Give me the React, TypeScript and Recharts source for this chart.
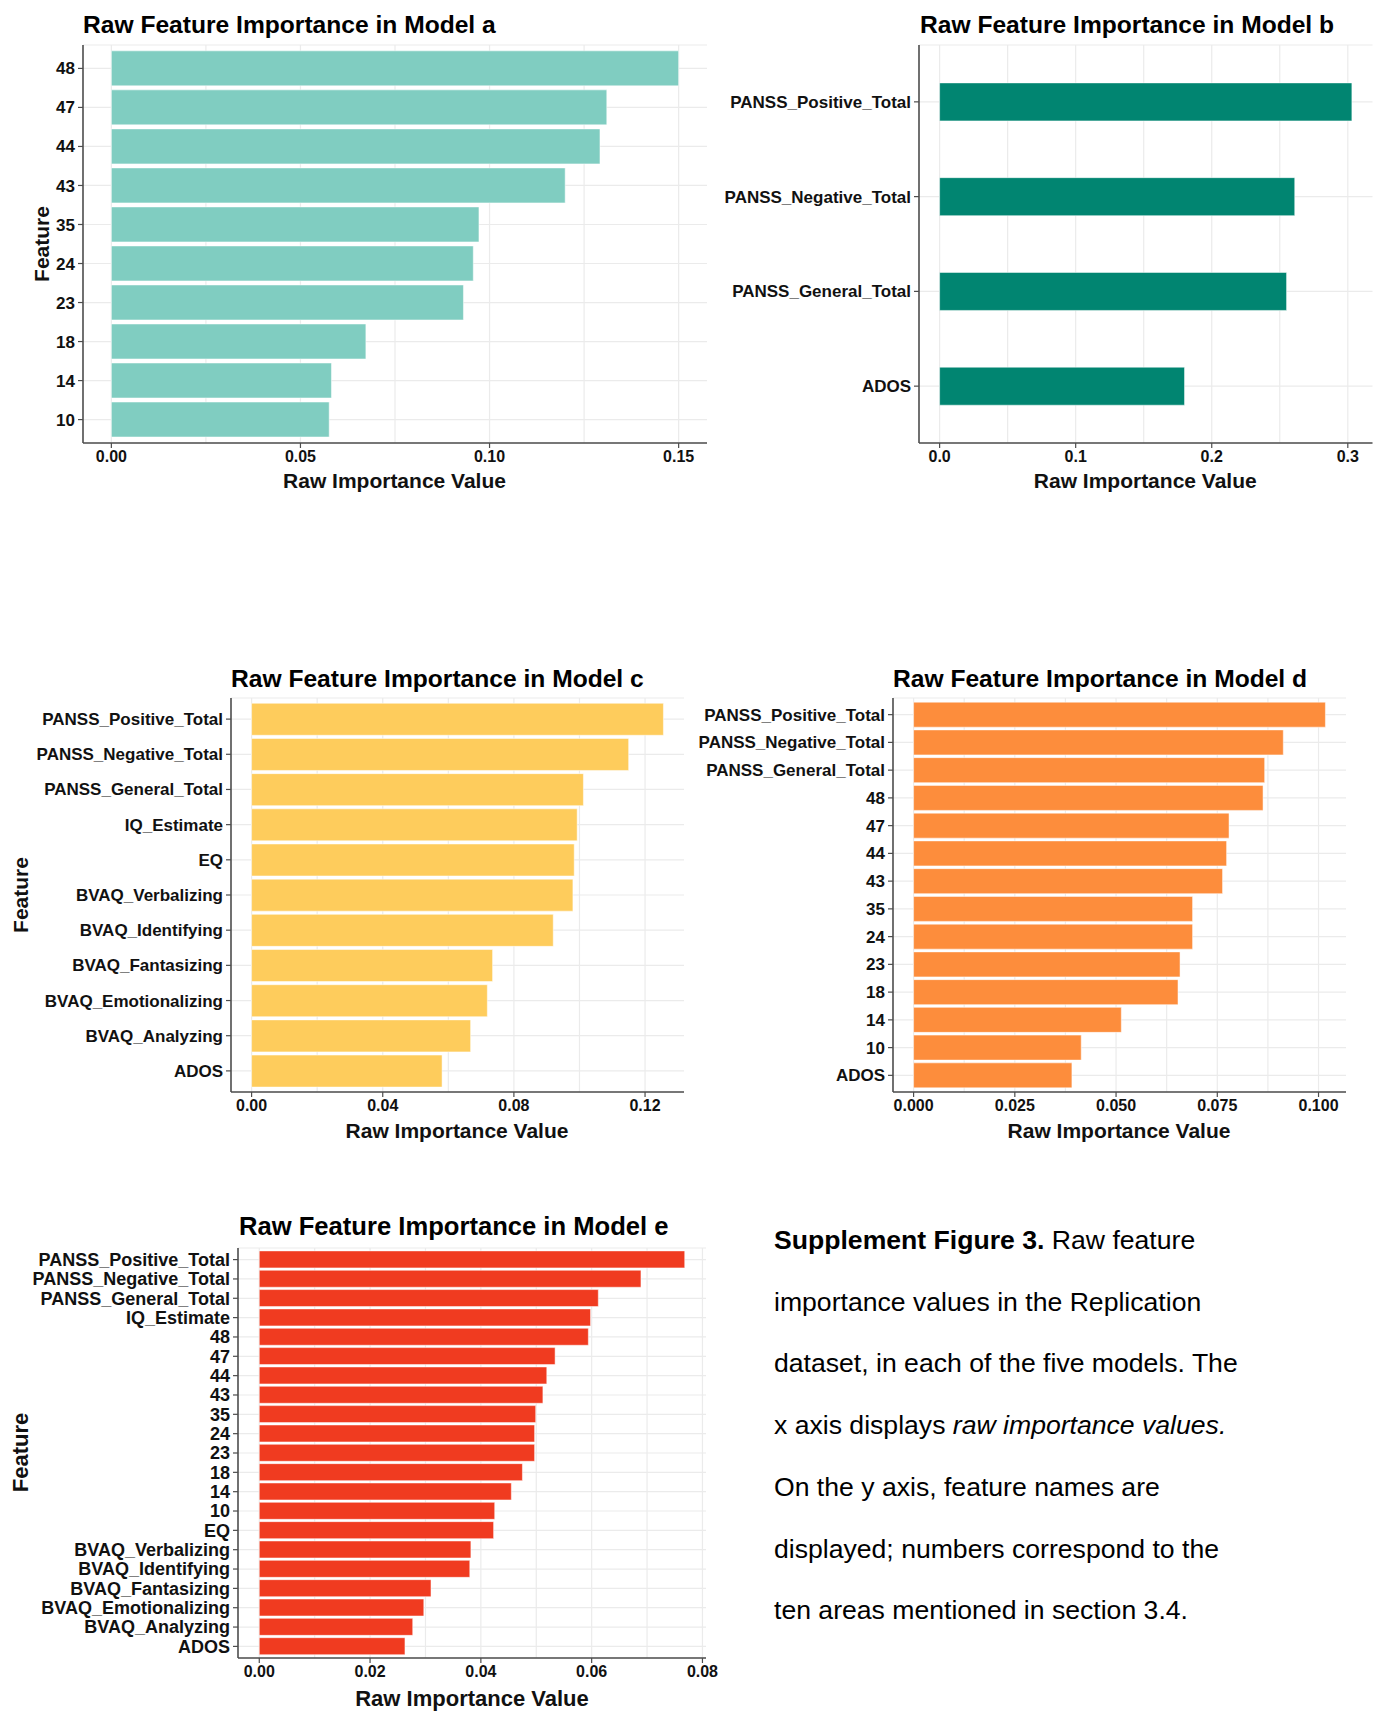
import React from 'react'
import { BarChart, Bar, XAxis, YAxis, CartesianGrid } from 'recharts'

// values, top bar first
const modelAFeatures = ['48', '47', '44', '43', '35', '24', '23', '18', '14', '10']
const modelAValues = [0.15, 0.131, 0.1292, 0.12, 0.0972, 0.0957, 0.0931, 0.0673, 0.0582, 0.0576]
const modelATicks = [0, 0.05, 0.1, 0.15]
const modelAGrid = [0, 0.025, 0.05, 0.075, 0.1, 0.125, 0.15]

const modelBFeatures = ['PANSS_Positive_Total', 'PANSS_Negative_Total', 'PANSS_General_Total', 'ADOS']
const modelBValues = [0.303, 0.261, 0.255, 0.18]
const modelBTicks = [0, 0.1, 0.2, 0.3]
const modelBGrid = [0, 0.05, 0.1, 0.15, 0.2, 0.25, 0.3]

const modelCFeatures = [
  'PANSS_Positive_Total',
  'PANSS_Negative_Total',
  'PANSS_General_Total',
  'IQ_Estimate',
  'EQ',
  'BVAQ_Verbalizing',
  'BVAQ_Identifying',
  'BVAQ_Fantasizing',
  'BVAQ_Emotionalizing',
  'BVAQ_Analyzing',
  'ADOS',
]
const modelCValues = [0.1256, 0.115, 0.1012, 0.0993, 0.0984, 0.098, 0.092, 0.0735, 0.0719, 0.0668, 0.0581]
const modelCTicks = [0, 0.04, 0.08, 0.12]
const modelCGrid = [0, 0.02, 0.04, 0.06, 0.08, 0.1, 0.12]

const modelDFeatures = [
  'PANSS_Positive_Total',
  'PANSS_Negative_Total',
  'PANSS_General_Total',
  '48',
  '47',
  '44',
  '43',
  '35',
  '24',
  '23',
  '18',
  '14',
  '10',
  'ADOS',
]
const modelDValues = [
  0.1017, 0.0913, 0.0867, 0.0863, 0.0779, 0.0773, 0.0763, 0.0689, 0.0689, 0.0658, 0.0653, 0.0513, 0.0414,
  0.0391,
]
const modelDTicks = [0, 0.025, 0.05, 0.075, 0.1]
const modelDGrid = [0, 0.0125, 0.025, 0.0375, 0.05, 0.0625, 0.075, 0.0875, 0.1]

const modelEFeatures = [
  'PANSS_Positive_Total',
  'PANSS_Negative_Total',
  'PANSS_General_Total',
  'IQ_Estimate',
  '48',
  '47',
  '44',
  '43',
  '35',
  '24',
  '23',
  '18',
  '14',
  '10',
  'EQ',
  'BVAQ_Verbalizing',
  'BVAQ_Identifying',
  'BVAQ_Fantasizing',
  'BVAQ_Emotionalizing',
  'BVAQ_Analyzing',
  'ADOS',
]
const modelEValues = [
  0.0768, 0.0689, 0.0612, 0.0598, 0.0594, 0.0534, 0.0519, 0.0512, 0.0499, 0.0497, 0.0497, 0.0475, 0.0455,
  0.0425, 0.0423, 0.0382, 0.038, 0.031, 0.0297, 0.0277, 0.0263,
]
const modelETicks = [0, 0.02, 0.04, 0.06, 0.08]
const modelEGrid = [0, 0.01, 0.02, 0.03, 0.04, 0.05, 0.06, 0.07, 0.08]

const FONT = '"Liberation Sans", Arial, sans-serif'
const AXIS = '#4d4d4d'
const INK = '#111111'

interface Box {
  left: number
  top: number
  width: number
  height: number
}

interface PanelProps {
  features: string[]
  values: number[]
  ticks: number[]
  grid: number[]
  digits: number
  color: string
  box: Box
  yWidth: number
  barGap: string
  labelSize?: number
  mRight?: number
}

const FeaturePanel = ({
  features,
  values,
  ticks,
  grid,
  digits,
  color,
  box,
  yWidth,
  barGap,
  labelSize = 17,
  mRight = 25,
}: PanelProps) => {
  const data = features.map((name, i) => ({ name, value: values[i] }))
  const max = Math.max(...values)
  // ggplot-like 5% expansion on the value axis, 0.6 units on the discrete axis
  const pad = max * 0.05
  const catPad = (0.1 * box.height) / (features.length + 0.2)
  const mTop = 10
  const xH = 34

  return (
    <div style={{ position: 'absolute', left: box.left - yWidth, top: box.top - mTop }}>
      <BarChart
        width={yWidth + box.width + mRight}
        height={mTop + box.height + xH}
        data={data}
        layout="vertical"
        margin={{ top: mTop, right: mRight, bottom: 0, left: 0 }}
        barCategoryGap={barGap}
      >
        <CartesianGrid stroke="#ebebeb" strokeWidth={1.2} verticalValues={grid} />
        <XAxis
          type="number"
          domain={[-pad, max + pad]}
          ticks={ticks}
          interval={0}
          height={xH}
          tickFormatter={(v: number) => v.toFixed(digits)}
          tick={{ fill: INK, fontSize: 16, fontWeight: 'bold', fontFamily: FONT }}
          tickSize={5}
          tickMargin={3}
          axisLine={{ stroke: AXIS, strokeWidth: 1.6 }}
          tickLine={{ stroke: AXIS, strokeWidth: 1.2 }}
        />
        <YAxis
          type="category"
          dataKey="name"
          width={yWidth}
          interval={0}
          padding={{ top: catPad, bottom: catPad }}
          tick={{ fill: INK, fontSize: labelSize, fontWeight: 'bold', fontFamily: FONT }}
          tickSize={5}
          tickMargin={3}
          axisLine={{ stroke: AXIS, strokeWidth: 1.6 }}
          tickLine={{ stroke: AXIS, strokeWidth: 1.2 }}
        />
        <Bar dataKey="value" fill={color} stroke="#ffffff" strokeOpacity={0.5} isAnimationActive={false} />
      </BarChart>
    </div>
  )
}

const boxA = { left: 82.5, top: 45, width: 624, height: 398 }
const boxB = { left: 918.5, top: 45, width: 453.5, height: 398 }
const boxC = { left: 230.5, top: 698, width: 453, height: 394 }
const boxD = { left: 892.5, top: 698, width: 453, height: 394 }
const boxE = { left: 238, top: 1247.5, width: 468, height: 410 }

const titleStyle = { fontFamily: FONT, fontSize: 24.6, fontWeight: 'bold' as const, fill: '#000' }
const axisTitleStyle = { fontFamily: FONT, fontSize: 21, fontWeight: 'bold' as const, fill: INK }
// panel e was pasted a little larger in the figure
const titleStyleE = { ...titleStyle, fontSize: 25.6 }
const axisTitleStyleE = { ...axisTitleStyle, fontSize: 22 }

const captionLines: React.ReactNode[] = [
  <>
    <tspan fontWeight="bold">Supplement Figure 3.</tspan> Raw feature
  </>,
  'importance values in the Replication',
  'dataset, in each of the five models. The',
  <>
    x axis displays <tspan fontStyle="italic">raw importance values.</tspan>
  </>,
  'On the y axis, feature names are',
  'displayed; numbers correspond to the',
  'ten areas mentioned in section 3.4.',
]

const App = () => {
  const cx = (b: Box) => b.left + b.width / 2
  const cy = (b: Box) => b.top + b.height / 2
  return (
    <div
      style={{
        position: 'absolute',
        left: 0,
        top: 0,
        width: 1375,
        height: 1720,
        background: '#ffffff',
        overflow: 'hidden',
      }}
    >
      <FeaturePanel features={modelAFeatures} values={modelAValues} ticks={modelATicks} grid={modelAGrid} digits={2} color="#80cdc1" box={boxA} yWidth={40} barGap="5%" />
      <FeaturePanel features={modelBFeatures} values={modelBValues} ticks={modelBTicks} grid={modelBGrid} digits={1} color="#018571" box={boxB} yWidth={200} barGap="30%" mRight={3} />
      <FeaturePanel features={modelCFeatures} values={modelCValues} ticks={modelCTicks} grid={modelCGrid} digits={2} color="#fecc5c" box={boxC} yWidth={220} barGap="5%" />
      <FeaturePanel features={modelDFeatures} values={modelDValues} ticks={modelDTicks} grid={modelDGrid} digits={3} color="#fd8d3c" box={boxD} yWidth={196} barGap="5%" />
      <FeaturePanel features={modelEFeatures} values={modelEValues} ticks={modelETicks} grid={modelEGrid} digits={2} color="#f03b20" box={boxE} yWidth={230} barGap="5%" labelSize={18} />

      <svg width={1375} height={1720} style={{ position: 'absolute', left: 0, top: 0, pointerEvents: 'none' }}>
        <text x={83} y={33.3} {...titleStyle}>Raw Feature Importance in Model a</text>
        <text x={920} y={33.3} {...titleStyle}>Raw Feature Importance in Model b</text>
        <text x={231} y={687} {...titleStyle}>Raw Feature Importance in Model c</text>
        <text x={893} y={687} {...titleStyle}>Raw Feature Importance in Model d</text>
        <text x={239} y={1235} {...titleStyleE}>Raw Feature Importance in Model e</text>

        <text x={cx(boxA)} y={487.5} textAnchor="middle" {...axisTitleStyle}>Raw Importance Value</text>
        <text x={cx(boxB)} y={487.5} textAnchor="middle" {...axisTitleStyle}>Raw Importance Value</text>
        <text x={cx(boxC)} y={1138} textAnchor="middle" {...axisTitleStyle}>Raw Importance Value</text>
        <text x={cx(boxD)} y={1138} textAnchor="middle" {...axisTitleStyle}>Raw Importance Value</text>
        <text x={cx(boxE)} y={1706} textAnchor="middle" {...axisTitleStyleE}>Raw Importance Value</text>

        <text transform={`translate(49, ${cy(boxA)}) rotate(-90)`} textAnchor="middle" {...axisTitleStyle}>Feature</text>
        <text transform={`translate(27.5, ${cy(boxC)}) rotate(-90)`} textAnchor="middle" {...axisTitleStyle}>Feature</text>
        <text transform={`translate(28, ${cy(boxE)}) rotate(-90)`} textAnchor="middle" {...axisTitleStyleE}>Feature</text>

        {captionLines.map((line, i) => (
          <text key={i} x={774} y={1249 + i * 61.7} fontFamily={FONT} fontSize={26.6} fill="#000">
            {line}
          </text>
        ))}
      </svg>
    </div>
  )
}

export default App
